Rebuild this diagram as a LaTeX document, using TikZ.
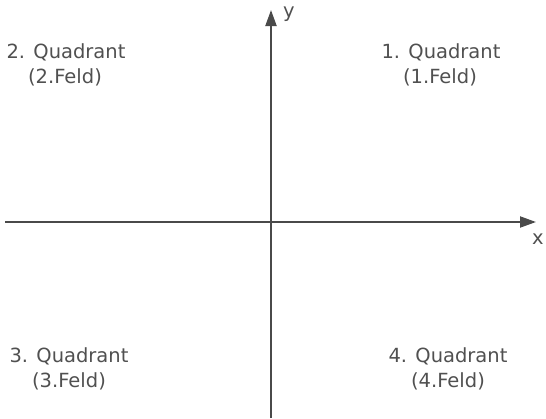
\documentclass[tikz,border=0pt]{standalone}
\usepackage{fontspec}
\setmainfont{DejaVu Sans}
\usetikzlibrary{arrows.meta}
\definecolor{axisgray}{HTML}{4A4A4A}
\definecolor{textgray}{HTML}{505050}
\tikzset{
  axis/.style={line width=2pt, draw=axisgray, -{Triangle[length=16pt,width=11pt]}},
  lbl/.style={text=textgray, font=\fontsize{19.5}{24}\selectfont, inner sep=0pt, anchor=base},
}
\begin{document}
\begin{tikzpicture}[x=1pt,y=-1pt]
  \useasboundingbox (0,0) rectangle (546,418);
  \coordinate (xs) at (5,222);
  \coordinate (xe) at (536,222);
  \coordinate (ys) at (271,418);
  \coordinate (ye) at (271,10);
  \draw[axis] (xs) -- (xe);
  \draw[axis] (ys) -- (ye);
  \node[lbl] (ylab) at (289,17) {y};
  \node[lbl] (xlab) at (538,244) {x};
  \node[lbl] (q1a) at (441,58) {1. Quadrant};
  \node[lbl] (q1b) at (440,83) {(1.Feld)};
  \node[lbl] (q2a) at (66,58) {2. Quadrant};
  \node[lbl] (q2b) at (65,83) {(2.Feld)};
  \node[lbl] (q3a) at (69,362) {3. Quadrant};
  \node[lbl] (q3b) at (69,387) {(3.Feld)};
  \node[lbl] (q4a) at (448,362) {4. Quadrant};
  \node[lbl] (q4b) at (448,387) {(4.Feld)};
\end{tikzpicture}
\end{document}
